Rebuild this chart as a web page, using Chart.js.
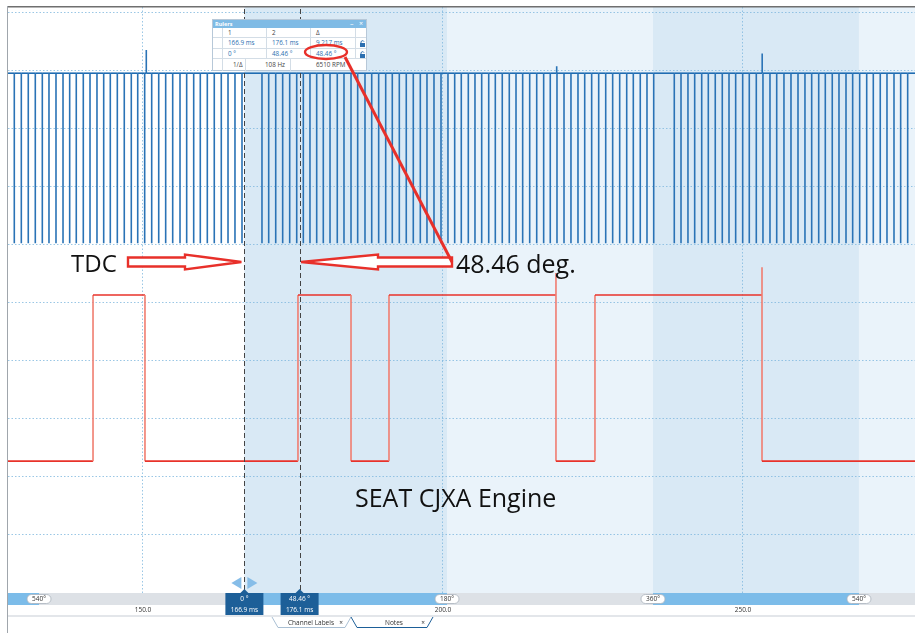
<!DOCTYPE html>
<html>
<head>
<meta charset="utf-8">
<script src="https://cdn.jsdelivr.net/npm/chart.js@4.4.0/dist/chart.umd.min.js"></script>
<style>
    html, body { margin: 0; padding: 0; background: #fff; }
    #wrap { position: relative; width: 915px; height: 633px; overflow: hidden; font-family: "Open Sans", "DejaVu Sans", sans-serif; }
    #scope { position: absolute; left: 0; top: 0; }
    .lbl { position: absolute; white-space: nowrap; line-height: 1; }
    .small { font-size: 6.5px; color: #333; transform: translate(-50%, -50%); }
    .onbox { font-size: 6.5px; color: #fff; transform: translate(-50%, -50%); }
    .big { font-size: 25px; color: #111; }
    #rulers { position: absolute; left: 212px; top: 19px; width: 155px; height: 52px; background: #fff; border: 1px solid #b7c8d8; box-sizing: border-box; }
    #rulers .hdr { position: absolute; left: 0; top: 0; width: 100%; height: 8px; background: #7fbbe5; }
    #rulers .cell { position: absolute; box-sizing: border-box; border-right: 1px solid #d3dde6; border-bottom: 1px solid #d3dde6; font-size: 6.3px; line-height: 1; padding: 2px 0 0 5px; white-space: nowrap; }
    #anno { position: absolute; left: 0; top: 0; }
</style>
</head>
<body>
<div id="wrap">
    <canvas id="scope" width="915" height="633"></canvas>
    <div id="labels"></div>
    <div id="rulers"></div>
    <svg id="anno" width="915" height="633"></svg>
    <div class="lbl big" style="left:71px; top:251px; font-size:24px;">TDC</div>
    <div class="lbl big" style="left:456px; top:251px;">48.46 deg.</div>
    <div class="lbl big" style="left:355px; top:485px;">SEAT CJXA Engine</div>
</div>
<script>
// --- Time axis (ms) ---
const xMin = 127.5;
const xMax = 278.67;
const xTicks = [150, 200, 250];

// --- Channel A: crank sensor (60-2 wheel), tooth dips ---
const toothTimes = [
    128.55, 129.72, 130.88, 132.05, 133.22, 134.33, 135.5, 136.67, 137.78, 138.88,
    140.05, 141.17, 142.33, 143.45, 144.55, 145.72, 146.88, 148.05, 149.12, 150.28,
    151.45, 152.62, 153.78, 154.95, 156.17, 157.28, 158.45, 159.55, 160.72, 161.88,
    163.05, 164.17, 165.33, 166.5, 169.83, 170.95, 172.12, 173.28, 174.45, 175.62,
    176.72, 177.83, 178.95, 180.05, 181.17, 182.38, 183.5, 184.67, 185.78, 187.0,
    188.12, 189.28, 190.45, 191.55, 192.72, 193.88, 195.05, 196.22, 197.33, 198.5,
    199.67, 200.83, 201.95, 203.05, 204.22, 205.33, 206.45, 207.62, 208.72, 209.88,
    211.05, 212.17, 213.28, 214.45, 215.62, 216.78, 217.88, 219.0, 220.17, 221.33,
    222.5, 223.62, 224.78, 225.95, 227.12, 228.28, 229.45, 230.62, 231.72, 232.88,
    234.0, 235.12, 238.55, 239.67, 240.83, 241.95, 243.12, 244.22, 245.38, 246.55,
    247.67, 248.78, 249.95, 251.05, 252.22, 253.33, 254.5, 255.62, 256.83, 258.0,
    259.17, 260.33, 261.45, 262.62, 263.72, 264.88, 266.0, 267.17, 268.28, 269.45,
    270.62, 271.72, 272.88, 274.0, 275.17, 276.28, 277.45
];
const crankBase = 8.95;
const crankDip = 6.02;
const crankUpTimes = [150.55, 218.95, 253.2];
const crankUpLevels = [9.35, 9.07, 9.29];

// --- Channel B: cam sensor edges (rise, fall, rise, ...) ---
const camEdgeTimes = [141.67, 150.33, 175.83, 184.67, 191.0, 218.83, 225.33, 253.17];
const camHigh = 5.13;
const camLow = 2.27;
const camSpikeTimes = [218.83, 253.17];
const camSpikeLevels = [5.51, 5.61];

// --- Rulers / crank angle ruler ---
const cursorTimes = [166.9, 176.1];
const cursorAngles = ['0 °', '48.46 °'];
const cursorTimeLabels = ['166.9 ms', '176.1 ms'];
const crankMarkTimes = [132.67, 200.67, 235.0, 269.33];
const crankMarkLabels = ['540°', '180°', '360°', '540°'];
const shadeStarts = [166.9, 200.67, 235.0, 269.33];
const shadeEnds = [200.67, 235.0, 269.33, 278.67];
const barBlueSpans = [[127.5, 132.67], [166.9, 200.67], [235.0, 269.33]];

const rulerHead = ['1', '2', 'Δ'];
const rulerTimes = ['166.9 ms', '176.1 ms', '9.217 ms'];
const rulerAngles = ['0 °', '48.46 °', '48.46 °'];
const rulerFreq = ['1/Δ', '108 Hz', '6510 RPM'];

// --- Build line data ---
const crankEvents = toothTimes.map(t => ({ t: t, v: crankDip }))
    .concat(crankUpTimes.map((t, i) => ({ t: t, v: crankUpLevels[i] })))
    .sort((a, b) => a.t - b.t);
const crankPts = [{ x: xMin, y: crankBase }];
crankEvents.forEach(e => {
    crankPts.push({ x: e.t, y: crankBase }, { x: e.t, y: e.v }, { x: e.t, y: crankBase });
});
crankPts.push({ x: xMax, y: crankBase });

const camPts = [{ x: xMin, y: camLow }];
let level = camLow;
camEdgeTimes.forEach(t => {
    camPts.push({ x: t, y: level });
    const k = camSpikeTimes.indexOf(t);
    if (k >= 0) camPts.push({ x: t, y: camSpikeLevels[k] });
    level = (level === camLow) ? camHigh : camLow;
    camPts.push({ x: t, y: level });
});
camPts.push({ x: xMax, y: level });

// --- Decorations drawn through the scales ---
const decor = {
    id: 'decor',
    beforeDraw(chart) {
        const { ctx, chartArea: a, scales: { x } } = chart;
        ctx.save();
        shadeStarts.forEach((s, i) => {
            ctx.fillStyle = (i % 2 === 0) ? '#d9e9f5' : '#eaf3fa';
            const x0 = x.getPixelForValue(s), x1 = x.getPixelForValue(shadeEnds[i]);
            ctx.fillRect(x0, a.top, x1 - x0, a.bottom - a.top);
        });
        ctx.restore();
    },
    afterDatasetsDraw(chart) {
        const { ctx, chartArea: a, scales: { x } } = chart;
        ctx.save();
        ctx.strokeStyle = '#444';
        ctx.lineWidth = 1;
        ctx.setLineDash([5, 3]);
        cursorTimes.forEach(t => {
            const px = Math.round(x.getPixelForValue(t)) + 0.5;
            ctx.beginPath(); ctx.moveTo(px, a.top + 2); ctx.lineTo(px, a.bottom); ctx.stroke();
        });
        ctx.restore();
    },
    afterDraw(chart) {
        const { ctx, chartArea: a, scales: { x } } = chart;
        const y0 = a.bottom;
        ctx.save();
        // angle ruler bar
        ctx.fillStyle = '#dde1e6';
        ctx.fillRect(a.left, y0, a.right - a.left, 12);
        ctx.fillStyle = '#7cbce9';
        barBlueSpans.forEach(s => {
            const x0 = x.getPixelForValue(s[0]), x1 = x.getPixelForValue(s[1]);
            ctx.fillRect(x0, y0, x1 - x0, 12);
        });
        crankMarkTimes.forEach(t => {
            const px = x.getPixelForValue(t);
            ctx.beginPath();
            ctx.roundRect(px - 12, y0 + 1.5, 24, 9, 4.5);
            ctx.fillStyle = '#fff'; ctx.fill();
            ctx.strokeStyle = '#aab3bd'; ctx.lineWidth = 0.8; ctx.stroke();
        });
        // separator under tick labels
        ctx.fillStyle = '#e3e6ea';
        ctx.fillRect(a.left, 615, a.right - a.left, 2);
        // cursor boxes
        cursorTimes.forEach(t => {
            const px = x.getPixelForValue(t);
            ctx.fillStyle = '#1d5f98';
            ctx.fillRect(px - 19, y0, 38, 22);
            ctx.beginPath(); ctx.moveTo(px - 4, y0); ctx.lineTo(px, y0 - 4); ctx.lineTo(px + 4, y0); ctx.fill();
        });
        // handle on the first cursor
        const h = x.getPixelForValue(cursorTimes[0]);
        ctx.fillStyle = '#86bde8';
        ctx.beginPath(); ctx.moveTo(h - 13, y0 - 10); ctx.lineTo(h - 3, y0 - 16); ctx.lineTo(h - 3, y0 - 4); ctx.fill();
        ctx.beginPath(); ctx.moveTo(h + 13, y0 - 10); ctx.lineTo(h + 3, y0 - 16); ctx.lineTo(h + 3, y0 - 4); ctx.fill();
        // tabs
        ctx.lineWidth = 1;
        ctx.strokeStyle = '#a9bfd3';
        ctx.beginPath(); ctx.moveTo(272, 617); ctx.lineTo(278, 627.5); ctx.lineTo(345, 627.5); ctx.lineTo(351, 617); ctx.stroke();
        ctx.strokeStyle = '#1d5f98';
        ctx.beginPath(); ctx.moveTo(351, 617); ctx.lineTo(357, 627.5); ctx.lineTo(427, 627.5); ctx.lineTo(433, 617); ctx.stroke();
        // frame
        ctx.fillStyle = '#6f6f6f';
        ctx.fillRect(a.left, 6, a.right - a.left, 1.5);
        ctx.fillStyle = '#a0a6ac';
        ctx.fillRect(a.left - 1, 6, 1, 633);
        ctx.restore();
    }
};

// vertical edges of a trace drawn thinner/lighter, like the scope render
const vertical = c => c.p0.parsed.x === c.p1.parsed.x;

const gridCol = 'rgba(120,180,220,0.75)';
const chart = new Chart(document.getElementById('scope'), {
    type: 'scatter',
    data: {
        datasets: [
            { data: crankPts, showLine: true, borderColor: '#1f6cb2', borderWidth: 1.6, pointRadius: 0,
              segment: { borderColor: c => vertical(c) ? '#2a73b6' : undefined } },
            { data: camPts, showLine: true, borderColor: '#e8322a', borderWidth: 1.6, pointRadius: 0,
              segment: { borderColor: c => vertical(c) ? '#f07d70' : undefined } }
        ]
    },
    options: {
        responsive: false,
        animation: false,
        events: [],
        layout: { padding: { left: 8, right: 0, top: 7, bottom: 0 } },
        plugins: { legend: { display: false }, tooltip: { enabled: false } },
        scales: {
            x: {
                type: 'linear', min: xMin, max: xMax,
                afterFit(s) { s.height = 40; },
                afterBuildTicks(s) { s.ticks = xTicks.map(v => ({ value: v })); },
                ticks: { padding: 13, maxRotation: 0, color: '#333', font: { size: 6.5, family: 'Open Sans' }, callback: v => v.toFixed(1) },
                grid: { color: gridCol, drawTicks: false },
                border: { display: false, dash: [1.5, 2] }
            },
            y: {
                min: 0, max: 10.09,
                afterFit(s) { s.width = 0; },
                afterBuildTicks(s) { s.ticks = [0, 1, 2, 3, 4, 5, 6, 7, 8, 9, 10].map(v => ({ value: v })); },
                ticks: { display: false },
                grid: { color: gridCol, drawTicks: false },
                border: { display: false, dash: [1.5, 2] }
            }
        }
    },
    plugins: [decor]
});

// --- Text overlays placed from the scale ---
const xs = chart.scales.x;
const yBar = chart.chartArea.bottom;
const labels = document.getElementById('labels');
function addLabel(text, x, y, cls) {
    const d = document.createElement('div');
    d.className = 'lbl ' + cls;
    d.style.left = x + 'px';
    d.style.top = y + 'px';
    d.textContent = text;
    labels.appendChild(d);
}
crankMarkTimes.forEach((t, i) => addLabel(crankMarkLabels[i], xs.getPixelForValue(t), yBar + 6, 'small'));
cursorTimes.forEach((t, i) => {
    const px = xs.getPixelForValue(t);
    addLabel(cursorAngles[i], px, yBar + 5.5, 'onbox');
    addLabel(cursorTimeLabels[i], px, yBar + 16.5, 'onbox');
});
addLabel('Channel Labels', 311, 623, 'small');
addLabel('×', 341, 622.5, 'small');
addLabel('Notes', 394, 623, 'small');
addLabel('×', 423, 622.5, 'small');

// --- Rulers panel ---
const rulers = document.getElementById('rulers');
const lockSvg = '<svg width="7" height="7" style="position:absolute;left:3px;top:2px"><rect x="1" y="3" width="5" height="4" fill="#2b6fb0"/><path d="M2 3.2 V2 A1.6 1.6 0 0 1 5 1.6" stroke="#2b6fb0" fill="none" stroke-width="1"/></svg>';
rulers.innerHTML = '<div class="hdr"></div>' +
    '<div class="lbl" style="left:2px;top:1.5px;font-size:5.5px;font-weight:bold;color:#fff">Rulers</div>' +
    '<div class="lbl" style="left:137px;top:0px;font-size:7px;color:#fff">–</div>' +
    '<div class="lbl" style="left:146px;top:0px;font-size:7px;color:#fff">×</div>';
const colX = [0, 10, 54, 98, 143, 153];
const rowY = [8, 18, 29, 39, 51];
function cell(x0, x1, y0, y1, text, color, extra) {
    const d = document.createElement('div');
    d.className = 'cell';
    d.style.left = x0 + 'px'; d.style.width = (x1 - x0) + 'px';
    d.style.top = y0 + 'px'; d.style.height = (y1 - y0) + 'px';
    d.style.color = color;
    if (extra) d.style.cssText += extra;
    d.innerHTML = text;
    rulers.appendChild(d);
}
[rulerHead, rulerTimes, rulerAngles].forEach((row, r) => {
    const col = r === 0 ? '#444' : '#2b6fb0';
    cell(colX[0], colX[1], rowY[r], rowY[r + 1], '', col);
    row.forEach((txt, c) => cell(colX[c + 1], colX[c + 2], rowY[r], rowY[r + 1], txt, col));
    cell(colX[4], colX[5], rowY[r], rowY[r + 1], r === 0 ? '' : lockSvg, col, 'border-right:none;padding:0');
});
cell(0, 10, rowY[3], rowY[4], '', '#444', 'border-bottom:none');
cell(10, 33, rowY[3], rowY[4], rulerFreq[0], '#444', 'border-bottom:none;padding-left:10px;padding-top:3px');
cell(33, 78, rowY[3], rowY[4], rulerFreq[1], '#444', 'border-bottom:none;padding-left:19px;padding-top:3px');
cell(78, 153, rowY[3], rowY[4], rulerFreq[2], '#444', 'border-bottom:none;border-right:none;padding-left:25px;padding-top:3px');

// --- Annotation arrows ---
const tip0 = xs.getPixelForValue(cursorTimes[0]) - 3;
const tip1 = xs.getPixelForValue(cursorTimes[1]) + 1.5;
const yc = 262;
function blockArrow(tail, base, tip) {
    return [[tail, yc - 4.5], [base, yc - 4.5], [base, yc - 7.5], [tip, yc], [base, yc + 7.5], [base, yc + 4.5], [tail, yc + 4.5]]
        .map(p => p[0].toFixed(1) + ',' + p[1].toFixed(1)).join(' ');
}
document.getElementById('anno').innerHTML =
    '<polygon points="' + blockArrow(128, 185, tip0) + '" fill="#fff" stroke="#e8302a" stroke-width="2.4" stroke-linejoin="miter"/>' +
    '<polygon points="' + blockArrow(452, 378, tip1) + '" fill="#fff" stroke="#e8302a" stroke-width="2.4" stroke-linejoin="miter"/>' +
    '<ellipse cx="326" cy="52" rx="21" ry="7" fill="none" stroke="#e8302a" stroke-width="2.4"/>' +
    '<line x1="345" y1="57" x2="452" y2="262" stroke="#e8302a" stroke-width="3"/>';
</script>
</body>
</html>
